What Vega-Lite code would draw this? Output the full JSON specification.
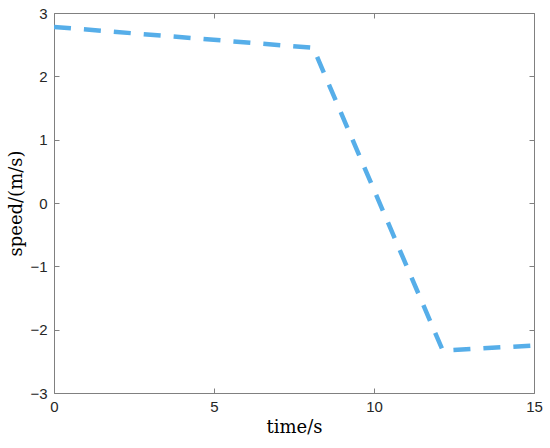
{
  "$schema": "https://vega.github.io/schema/vega-lite/v6.json",
  "width": 480,
  "height": 380,
  "autosize": "none",
  "padding": {"left": 54, "top": 13, "right": 16, "bottom": 55},
  "background": "white",
  "config": {
    "view": {"stroke": null},
    "axis": {
      "domainColor": "#808080",
      "domainWidth": 1,
      "tickColor": "#808080",
      "tickWidth": 1,
      "tickSize": -5,
      "grid": false,
      "labelFont": "Liberation Sans",
      "labelFontSize": 15,
      "labelColor": "#262626",
      "titleFont": "DejaVu Serif",
      "titleFontWeight": "normal",
      "titleFontSize": 18,
      "titleColor": "#000000"
    }
  },
  "data": {
    "values": [
      {"time": 0, "speed": 2.78},
      {"time": 8.1, "speed": 2.45},
      {"time": 12.15, "speed": -2.33},
      {"time": 15, "speed": -2.25}
    ]
  },
  "layer": [
    {
      "mark": {"type": "line", "color": "#56AEE9", "strokeWidth": 4.5, "strokeDash": [17, 13], "strokeCap": "butt", "clip": true},
      "encoding": {
        "x": {"field": "time", "type": "quantitative", "scale": {"domain": [0, 15], "nice": false},
          "axis": {"orient": "bottom", "values": [0, 5, 10, 15], "title": "time/s", "labelPadding": 11, "titlePadding": 4, "labelFlush": false}},
        "y": {"field": "speed", "type": "quantitative", "scale": {"domain": [-3, 3], "nice": false},
          "axis": {"orient": "left", "values": [-3, -2, -1, 0, 1, 2, 3], "title": "speed/(m/s)", "labelPadding": 12, "titlePadding": 4}}
      }
    },
    {
      "mark": {"type": "line", "opacity": 0},
      "encoding": {
        "x": {"field": "time", "type": "quantitative", "scale": {"domain": [0, 15], "nice": false},
          "axis": {"orient": "top", "values": [0, 5, 10, 15], "labels": false, "title": null}},
        "y": {"field": "speed", "type": "quantitative", "scale": {"domain": [-3, 3], "nice": false},
          "axis": {"orient": "right", "values": [-3, -2, -1, 0, 1, 2, 3], "labels": false, "title": null}}
      }
    }
  ],
  "resolve": {"axis": {"x": "independent", "y": "independent"}}
}
